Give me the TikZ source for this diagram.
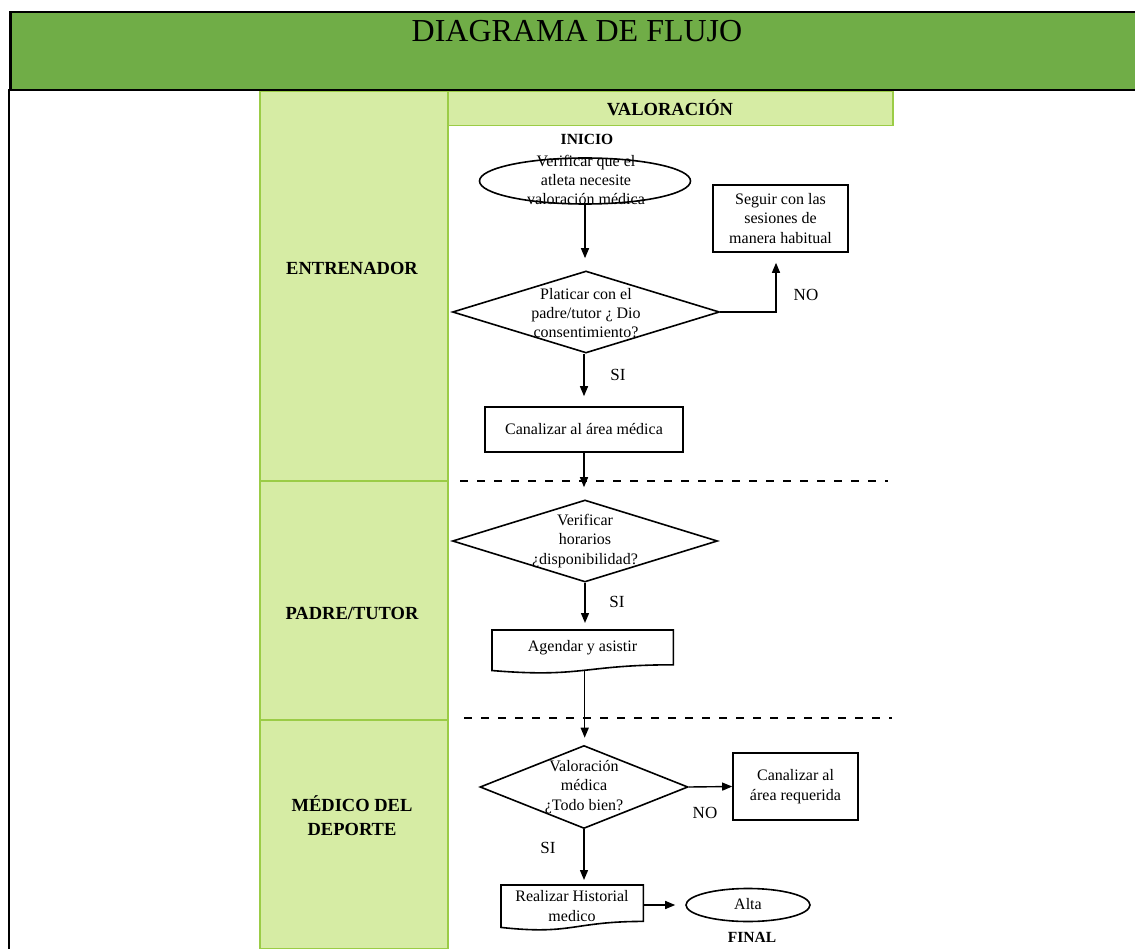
\documentclass[tikz,border=0pt]{standalone}
\usepackage{fontspec}
\setmainfont{Liberation Serif}
\usetikzlibrary{shapes.geometric,arrows.meta,calc}
\definecolor{hdrgreen}{RGB}{112,173,71}
\definecolor{lanefill}{RGB}{214,236,164}
\definecolor{laneedge}{RGB}{155,204,70}
\newcommand\fBody{\fontsize{16}{19.3}\selectfont}
\newcommand\fLane{\fontsize{18.5}{24}\selectfont\bfseries}
\newcommand\fTitle{\fontsize{32}{36}\selectfont}
\newcommand\fTag{\fontsize{15.5}{18}\selectfont\bfseries}
\newcommand\fYN{\fontsize{17}{20}\selectfont}
\newcommand\drawDocShape[1]{%
  \draw[line width=1.6pt] (#1.north west) -- (#1.north east)
    -- ($(#1.north east)!0.802!(#1.south east)$)
    .. controls ($(#1.north)!0.802!(#1.south)$) and ($(#1.north)!1.107!(#1.south)$)
    .. ($(#1.north west)!0.934!(#1.south west)$) -- cycle;}
\begin{document}
\begin{tikzpicture}[x=1pt,y=-1pt,
  lane/.style={draw=laneedge, fill=lanefill, line width=1.5pt, inner sep=0pt, anchor=north west},
  lanetxt/.style={font=\fLane, align=center, inner sep=0pt},
  shp/.style={draw, line width=1.6pt, inner sep=0pt},
  flowbox/.style={shp, rectangle, font=\fBody, align=center},
  dec/.style={shp, diamond},
  term/.style={shp, ellipse},
  docnode/.style={rectangle, inner sep=0pt, anchor=north west},
  txt/.style={font=\fBody, align=center, inner sep=0pt},
  yn/.style={font=\fYN, inner sep=0pt},
  tag/.style={font=\fTag, inner sep=0pt},
  arr/.style={line width=1.4pt, -{Triangle[length=10pt,width=8pt]}},
  sepline/.style={line width=2pt, dash pattern=on 8pt off 9pt},
]
\path[use as bounding box] (0,0) rectangle (1135,949);
\begin{scope}
\clip (0,0) rectangle (1135,949);
% header and frame
\node[draw=black, fill=hdrgreen, line width=2.5pt, minimum width=1150pt, minimum height=78pt, anchor=north west, inner sep=0pt] (header) at (9,11) {};
\node[font=\fTitle, inner sep=0pt] (title) at (577,31) {DIAGRAMA DE FLUJO};
\coordinate (frameTop) at (9,89);
\coordinate (frameBot) at (9,960);
\draw[line width=2.5pt] (frameTop) -- (frameBot);
% lanes
\node[lane, minimum width=188pt, minimum height=389pt] (laneE) at (259,91) {};
\node[lane, minimum width=188pt, minimum height=239pt] (laneP) at (259,480) {};
\node[lane, minimum width=188pt, minimum height=229pt] (laneM) at (259,719) {};
\node[lane, minimum width=445pt, minimum height=34pt] (valhdr) at (447,91) {};
\node[lanetxt] (valT) at (670,108) {VALORACIÓN};
\node[lanetxt] (laneET) at (352,268) {ENTRENADOR};
\node[lanetxt] (lanePT) at (352,613) {PADRE/TUTOR};
\node[lanetxt] (laneMT) at (352,816) {MÉDICO DEL\\DEPORTE};
% separators
\coordinate (sepA1) at (460,481);
\coordinate (sepA2) at (888,481);
\coordinate (sepB1) at (464,718);
\coordinate (sepB2) at (892,718);
\draw[sepline] (sepA1) -- (sepA2);
\draw[sepline] (sepB1) -- (sepB2);
% flow shapes
\node[tag] (inicio) at (587,139) {INICIO};
\node[term, minimum width=211pt, minimum height=46pt] (start) at (585,181) {};
\node[txt] (startT) at (586,180) {Verificar que el\\atleta necesite\\valoración médica};
\node[dec, minimum width=267pt, minimum height=82pt] (d1) at (586,312) {};
\node[txt] (d1T) at (586,313) {Platicar con el\\padre/tutor ¿ Dio\\consentimiento?};
\node[flowbox, minimum width=135pt, minimum height=67pt] (seguir) at (780.5,218.5) {Seguir con las\\sesiones de\\manera habitual};
\node[flowbox, minimum width=198pt, minimum height=45pt] (canal) at (584,429.5) {Canalizar al área médica};
\node[dec, minimum width=265pt, minimum height=82pt] (d2) at (585,541) {};
\node[txt] (d2T) at (585,541) {Verificar\\horarios\\¿disponibilidad?};
\node[docnode, minimum width=181pt, minimum height=43pt] (agendar) at (492,630) {};
\drawDocShape{agendar}
\node[txt] (agT) at (582.5,648) {Agendar y asistir};
\node[dec, minimum width=208pt, minimum height=83pt] (d3) at (584,787) {};
\node[txt] (d3T) at (584,787) {Valoración\\médica\\¿Todo bien?};
\node[flowbox, minimum width=125pt, minimum height=67pt] (req) at (795.5,786.5) {Canalizar al\\área requerida};
\node[docnode, minimum width=142pt, minimum height=45pt] (hist) at (501,885) {};
\drawDocShape{hist}
\node[txt] (histT) at (572,906) {Realizar Historial\\medico};
\node[term, minimum width=124pt, minimum height=33pt] (alta) at (748,905) {};
\node[txt] (altaT) at (748,904) {Alta};
\node[tag] (final) at (752,937) {FINAL};
% connectors
\coordinate (agBot) at ($(agendar.north)!0.933!(agendar.south)$);
\draw[arr, shorten >=12pt] (start.south) -- (start.south |- d1.north);
\draw[arr, shorten >=10pt] (d1.east) -| ([xshift=-4.5pt]seguir.south);
\node[yn] (noA) at (806,295) {NO};
\draw[arr, shorten >=10pt] ([xshift=-2pt]d1.south) -- ([xshift=-2pt]d1.south |- canal.north);
\node[yn] (siA) at (618,375) {SI};
\draw[arr, shorten >=12pt] (canal.south) -- (canal.south |- d2.north);
\draw[arr, shorten >=7pt] (d2.south) -- (d2.south |- agendar.north);
\node[yn] (siB) at (617,602) {SI};
\draw[arr, shorten >=7pt] ([xshift=2pt]agBot) -- ([xshift=2pt]agBot |- d3.north);
\draw[arr] (d3.east) -- (req.west);
\node[yn] (noB) at (705,813) {NO};
\draw[arr, shorten >=5pt] (d3.south) -- (d3.south |- hist.north);
\node[yn] (siC) at (548,848) {SI};
\draw[arr, shorten >=10pt] (hist.east |- alta.west) -- (alta.west);
\end{scope}
\end{tikzpicture}
\end{document}
